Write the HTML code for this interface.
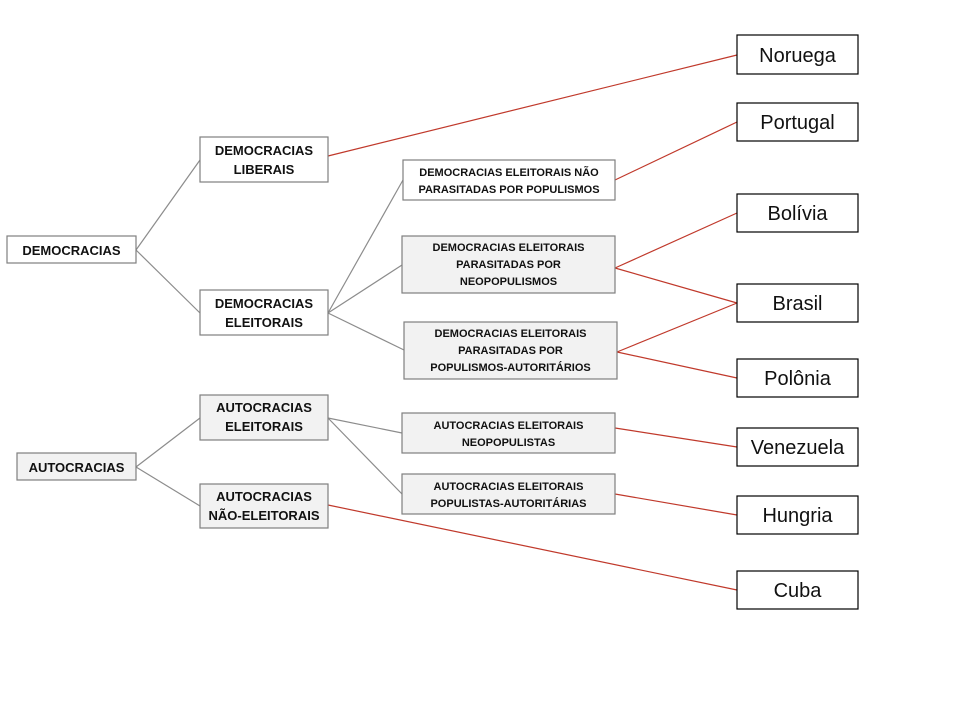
<!DOCTYPE html>
<html><head><meta charset="utf-8"><style>
html,body{margin:0;padding:0;background:#fff;}
svg{display:block;}
text{font-family:"Liberation Sans",sans-serif;fill:#111;}
.b{font-weight:bold;font-size:13px;}
.s{font-weight:bold;font-size:11px;}
.c{font-size:20px;}
</style></head><body>
<svg width="960" height="720" viewBox="0 0 960 720" xmlns="http://www.w3.org/2000/svg">
<g stroke="#8c8c8c" stroke-width="1.2" fill="none">
<line x1="136" y1="250" x2="200" y2="160"/>
<line x1="136" y1="250" x2="200" y2="313"/>
<line x1="136" y1="467" x2="200" y2="418"/>
<line x1="136" y1="467" x2="200" y2="506"/>
<line x1="328" y1="313" x2="403" y2="180"/>
<line x1="328" y1="313" x2="402" y2="265"/>
<line x1="328" y1="313" x2="404" y2="350"/>
<line x1="328" y1="418" x2="402" y2="433"/>
<line x1="328" y1="418" x2="402" y2="494"/>
</g>
<g stroke="#c0392b" stroke-width="1.2" fill="none">
<line x1="328" y1="156" x2="737" y2="55"/>
<line x1="615" y1="180" x2="737" y2="122"/>
<line x1="615" y1="268" x2="737" y2="213"/>
<line x1="615" y1="268" x2="737" y2="303"/>
<line x1="617" y1="352" x2="737" y2="303"/>
<line x1="617" y1="352" x2="737" y2="378"/>
<line x1="615" y1="428" x2="737" y2="447"/>
<line x1="615" y1="494" x2="737" y2="515"/>
<line x1="328" y1="505" x2="737" y2="590"/>
</g>
<g stroke="#7f7f7f" stroke-width="1.2">
<rect x="7" y="236" width="129" height="27" fill="#fff"/>
<rect x="17" y="453" width="119" height="27" fill="#f2f2f2"/>
<rect x="200" y="137" width="128" height="45" fill="#fff"/>
<rect x="200" y="290" width="128" height="45" fill="#fff"/>
<rect x="200" y="395" width="128" height="45" fill="#f2f2f2"/>
<rect x="200" y="484" width="128" height="44" fill="#f2f2f2"/>
<rect x="403" y="160" width="212" height="40" fill="#fff"/>
<rect x="402" y="236" width="213" height="57" fill="#f2f2f2"/>
<rect x="404" y="322" width="213" height="57" fill="#f2f2f2"/>
<rect x="402" y="413" width="213" height="40" fill="#f2f2f2"/>
<rect x="402" y="474" width="213" height="40" fill="#f2f2f2"/>
</g>
<g stroke="#000" stroke-width="1.2" fill="#fff">
<rect x="737" y="35" width="121" height="39"/>
<rect x="737" y="103" width="121" height="38"/>
<rect x="737" y="194" width="121" height="38"/>
<rect x="737" y="284" width="121" height="38"/>
<rect x="737" y="359" width="121" height="38"/>
<rect x="737" y="428" width="121" height="38"/>
<rect x="737" y="496" width="121" height="38"/>
<rect x="737" y="571" width="121" height="38"/>
</g>
<g text-anchor="middle">
<text class="b" x="71.5" y="255">DEMOCRACIAS</text>
<text class="b" x="76.5" y="472">AUTOCRACIAS</text>
<text class="b" x="264" y="155">DEMOCRACIAS</text>
<text class="b" x="264" y="174">LIBERAIS</text>
<text class="b" x="264" y="308">DEMOCRACIAS</text>
<text class="b" x="264" y="327">ELEITORAIS</text>
<text class="b" x="264" y="412">AUTOCRACIAS</text>
<text class="b" x="264" y="431">ELEITORAIS</text>
<text class="b" x="264" y="501">AUTOCRACIAS</text>
<text class="b" x="264" y="520">NÃO-ELEITORAIS</text>
<text class="s" x="509" y="176">DEMOCRACIAS ELEITORAIS NÃO</text>
<text class="s" x="509" y="193">PARASITADAS POR POPULISMOS</text>
<text class="s" x="508.5" y="251">DEMOCRACIAS ELEITORAIS</text>
<text class="s" x="508.5" y="268">PARASITADAS POR</text>
<text class="s" x="508.5" y="285">NEOPOPULISMOS</text>
<text class="s" x="510.5" y="337">DEMOCRACIAS ELEITORAIS</text>
<text class="s" x="510.5" y="354">PARASITADAS POR</text>
<text class="s" x="510.5" y="371">POPULISMOS-AUTORITÁRIOS</text>
<text class="s" x="508.5" y="429">AUTOCRACIAS ELEITORAIS</text>
<text class="s" x="508.5" y="446">NEOPOPULISTAS</text>
<text class="s" x="508.5" y="490">AUTOCRACIAS ELEITORAIS</text>
<text class="s" x="508.5" y="507">POPULISTAS-AUTORITÁRIAS</text>
<text class="c" x="797.5" y="62">Noruega</text>
<text class="c" x="797.5" y="129">Portugal</text>
<text class="c" x="797.5" y="220">Bolívia</text>
<text class="c" x="797.5" y="310">Brasil</text>
<text class="c" x="797.5" y="385">Polônia</text>
<text class="c" x="797.5" y="454">Venezuela</text>
<text class="c" x="797.5" y="522">Hungria</text>
<text class="c" x="797.5" y="597">Cuba</text>
</g>
</svg>
</body></html>
